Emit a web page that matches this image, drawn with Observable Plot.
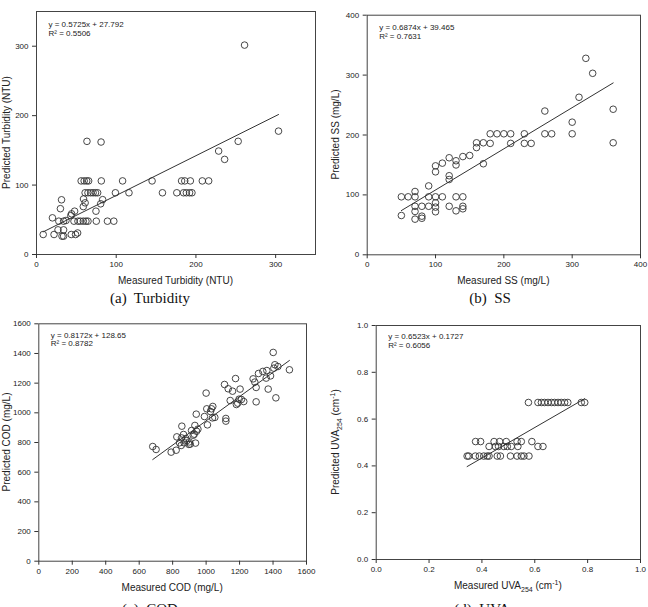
<!DOCTYPE html>
<html>
<head>
<meta charset="utf-8">
<script src="https://cdn.jsdelivr.net/npm/d3@7"></script>
<script src="https://cdn.jsdelivr.net/npm/@observablehq/plot@0.6"></script>
<style>
  body { margin: 0; background: #fff; }
  #fig { position: relative; width: 648px; height: 607px; overflow: hidden; background: #fff; }
  .panel { position: absolute; width: 324px; height: 300px; }
  .panel svg { overflow: visible; }
  #captions { position: absolute; left: 0; top: 0; pointer-events: none; overflow: visible; }
</style>
</head>
<body>
<div id="fig"></div>
<script>
// ---- (a) Turbidity, NTU ----
const turbidityMeasured = [8.4, 20, 22, 27, 28, 30, 31.4, 32, 34, 34, 34, 37, 43, 44, 47.8, 47, 43.6, 49, 51.6,
  52, 55, 58.7, 62, 64.6, 58.7, 59, 61, 56, 59.8, 63, 65.4, 63.3, 61, 64.6, 68, 71, 74, 76.7, 74.6, 75,
  81, 81.3, 80.5, 83, 89, 97, 99, 108, 116, 145, 158, 176, 182, 186, 184.5, 188, 192, 195, 193, 208, 216,
  228.5, 236, 253, 261, 303.6];
const turbidityPredicted = [28.8, 52.8, 28.8, 35.5, 48, 66, 78.8, 26.4, 26.4, 35.5, 48, 49, 56, 58.6, 62.4, 48, 28.8, 28.8, 31,
  48, 48, 48, 48, 48, 69, 80, 74.4, 106, 106, 106, 106, 163, 88.9, 88.9, 88.9, 88.9, 88.9, 88.9, 62.4, 48,
  162, 106, 73, 79, 48, 48, 88.9, 106, 88.9, 106, 88.9, 88.9, 106, 106, 88.9, 88.9, 88.9, 88.9, 106, 106, 106,
  149, 137, 163, 301.6, 177.7];
const turbidityTicks = [0, 100, 200, 300];

// ---- (b) SS, mg/L ----
const ssMeasured = [50, 50, 60, 70, 70, 70, 70, 70, 80, 80, 80, 90, 90, 90, 100, 100, 100, 100, 100, 100,
  110, 110, 120, 120, 120, 120, 130, 130, 130, 130, 140, 140, 140, 140, 150, 160, 160, 170, 170, 180, 180,
  190, 200, 210, 210, 230, 230, 240, 260, 260, 270, 300, 300, 310, 320, 330, 360, 360];
const ssPredicted = [65.6, 96.8, 96.8, 105.7, 96.8, 81, 72.3, 59.5, 81, 64.5, 61, 115, 96.8, 81, 96.8, 86.8, 79.6, 71.8, 148.5, 138.5,
  96.8, 153, 162, 132, 125.7, 81, 157, 150, 96.8, 73.4, 164, 96.8, 81, 76.8, 165.8, 187, 179, 187, 152, 202, 186,
  202, 202, 202, 186, 202, 186, 186, 240, 202, 202, 221.4, 202, 263, 328, 303, 243, 187];
const ssTicks = [0, 100, 200, 300, 400];

// ---- (c) COD, mg/L ----
const codMeasured = [681, 701, 791, 821, 825, 841, 853, 855, 851, 865, 869, 879, 885, 899, 905, 897, 913, 923, 933, 929,
  937, 943, 951, 941, 990, 1000, 1008, 1004, 1026, 1032, 1040, 1038, 1052, 1118, 1118, 1110, 1132, 1158, 1144, 1176,
  1181, 1189, 1197, 1203, 1211, 1225, 1281, 1291, 1299, 1299, 1313, 1339, 1363, 1359, 1371, 1385, 1401, 1405, 1411,
  1417, 1429, 1498];
const codPredicted = [773, 753, 735, 748, 838, 798, 831, 910, 780, 854, 798, 827, 813, 804, 789, 787, 881, 849, 915, 856,
  796, 876, 890, 991, 975, 1133, 919, 1027, 1009, 1027, 1043, 966, 969, 962, 944, 1191, 1162, 1146, 1083, 1231,
  1056, 1065, 1092, 1160, 1090, 1076, 1229, 1207, 1171, 1074, 1265, 1279, 1285, 1234, 1160, 1249, 1407, 1301, 1324,
  1101, 1312, 1290];
const codTicks = [0, 200, 400, 600, 800, 1000, 1200, 1400, 1600];

// ---- (d) UVA254, cm-1 ----
const uvaMeasured = [0.576, 0.612, 0.625, 0.637, 0.650, 0.663, 0.675, 0.688, 0.700, 0.713, 0.725, 0.776, 0.789,
  0.376, 0.395, 0.446, 0.467, 0.492, 0.533, 0.549, 0.589,
  0.427, 0.451, 0.463, 0.483, 0.496, 0.511, 0.536, 0.612, 0.631,
  0.344, 0.350, 0.375, 0.390, 0.407, 0.420, 0.427, 0.458, 0.470, 0.508, 0.533, 0.549, 0.559, 0.578];
const uvaPredicted = [0.671, 0.671, 0.671, 0.671, 0.671, 0.671, 0.671, 0.671, 0.671, 0.671, 0.671, 0.671, 0.671,
  0.504, 0.504, 0.504, 0.504, 0.504, 0.504, 0.504, 0.504,
  0.483, 0.483, 0.483, 0.483, 0.483, 0.483, 0.483, 0.483, 0.483,
  0.442, 0.442, 0.442, 0.442, 0.442, 0.442, 0.442, 0.442, 0.442, 0.442, 0.442, 0.442, 0.442, 0.442];
const uvaTicks = [0, 0.2, 0.4, 0.6, 0.8, 1.0];

// Fitted lines: slope, intercept and R² for panels a–d
const fitSlope = [0.5725, 0.6874, 0.8172, 0.6523];
const fitIntercept = [27.792, 39.465, 128.65, 0.1727];
const fitR2 = [0.5506, 0.7631, 0.8782, 0.6056];

// Axis titles and captions; each entry is a list of [text, "sub" | "sup" | null]
const xTitles = [
  [["Measured Turbidity (NTU)"]],
  [["Measured SS (mg/L)"]],
  [["Measured COD (mg/L)"]],
  [["Measured UVA"], ["254", "sub"], [" (cm"], ["-1", "sup"], [")"]]
];
const yTitles = [
  [["Predicted Turbidity (NTU)"]],
  [["Predicted SS (mg/L)"]],
  [["Predicted COD (mg/L)"]],
  [["Predicted UVA"], ["254", "sub"], [" (cm"], ["-1", "sup"], [")"]]
];
const captions = [
  [["(a)  Turbidity"]],
  [["(b)  SS"]],
  [["(c)  COD"]],
  [["(d)  UVA"], ["254", "sub"]]
];

const SANS = "'Liberation Sans', Arial, Helvetica, sans-serif";
const SERIF = "'Liberation Serif', 'Times New Roman', serif";
const INK = "#222";

// Writes a run of text pieces with sub/superscripts into an SVG <text>
function addRich(text, parts, fs) {
  let shift = 0;
  for (const [t, kind] of parts) {
    const target = kind === "sub" ? 0.3 * fs : kind === "sup" ? -0.4 * fs : 0;
    const ts = text.append("tspan").text(t).attr("dy", target - shift);
    if (kind) ts.attr("font-size", 0.7 * fs);
    shift = target;
  }
}

const layout = [
  {left: 0,   top: 0,   m: {l: 36,   r: 9,  t: 11,   b: 46},   yOff: 26,   eqDy: 10,
   x: turbidityMeasured, y: turbidityPredicted, domain: [0, 350], ticks: turbidityTicks, fmt: d3.format("d")},
  {left: 324, top: 0,   m: {l: 42.7, r: 8,  t: 14.7, b: 45.7}, yOff: 27.4, eqDy: 9,
   x: ssMeasured, y: ssPredicted, domain: [0, 400], ticks: ssTicks, fmt: d3.format("d")},
  {left: 0,   top: 300, m: {l: 38.3, r: 18, t: 23.3, b: 39.3}, yOff: 28,   eqDy: 8,
   x: codMeasured, y: codPredicted, domain: [0, 1600], ticks: codTicks, fmt: d3.format("d")},
  {left: 324, top: 300, m: {l: 51.7, r: 8,  t: 25,   b: 41},   yOff: 37,   eqDy: 8,
   x: uvaMeasured, y: uvaPredicted, domain: [0, 1], ticks: uvaTicks, fmt: d3.format(".1f")}
];

const fig = d3.select("#fig");
const W = 324, H = 300;

layout.forEach((p, i) => {
  const points = p.x.map((v, k) => ({measured: v, predicted: p.y[k]}));
  const [x0, x1] = d3.extent(p.x);
  const fit = [x0, x1].map(v => ({measured: v, predicted: fitSlope[i] * v + fitIntercept[i]}));
  const equation = `y = ${fitSlope[i]}x + ${fitIntercept[i]}\nR² = ${fitR2[i]}`;

  const chart = Plot.plot({
    width: W,
    height: H,
    marginLeft: p.m.l,
    marginRight: p.m.r,
    marginTop: p.m.t,
    marginBottom: p.m.b,
    style: {fontFamily: SANS, fontSize: "8px", color: INK, background: "transparent", overflow: "visible"},
    x: {domain: p.domain},
    y: {domain: p.domain},
    marks: [
      Plot.frame({stroke: "#444", strokeWidth: 1}),
      Plot.line(fit, {x: "measured", y: "predicted", stroke: "#333", strokeWidth: 1}),
      Plot.dot(points, {x: "measured", y: "predicted", r: 3.3, fill: "none", stroke: "#333", strokeWidth: 0.9}),
      Plot.text([equation], {
        text: d => d, frameAnchor: "top-left", textAnchor: "start", lineAnchor: "top",
        dx: 12, dy: p.eqDy - 0.5, fontSize: 8, lineHeight: 1.1, fill: INK
      }),
      Plot.axisX({ticks: p.ticks, tickFormat: p.fmt, tickSize: 4, tickPadding: 3, label: null, stroke: "#333", fill: INK}),
      Plot.axisY({ticks: p.ticks, tickFormat: p.fmt, tickSize: 4, tickPadding: 4, label: null, stroke: "#333", fill: INK})
    ]
  });

  const holder = fig.append("div").attr("class", "panel")
    .style("left", p.left + "px").style("top", p.top + "px");
  holder.node().appendChild(chart);

  // axis titles centred on the plotting frame
  const svg = d3.select(chart);
  const cx = (p.m.l + (W - p.m.r)) / 2;
  const cy = (p.m.t + (H - p.m.b)) / 2;
  const fs = 10;
  const xt = svg.append("text")
    .attr("x", cx).attr("y", H - p.m.b + 30)
    .attr("text-anchor", "middle").attr("font-family", SANS).attr("font-size", fs)
    .attr("fill", INK).style("white-space", "pre");
  addRich(xt, xTitles[i], fs);
  const yt = svg.append("text")
    .attr("transform", `translate(${p.m.l - p.yOff},${cy}) rotate(-90)`)
    .attr("text-anchor", "middle").attr("font-family", SANS).attr("font-size", fs)
    .attr("fill", INK).style("white-space", "pre");
  addRich(yt, yTitles[i], fs);
});

// sub-figure captions (the lower pair runs past the bottom edge of the page)
const capPos = [[150, 303], [490, 303], [150, 614], [490, 614]];
const cap = fig.append("svg").attr("id", "captions").attr("width", 648).attr("height", 607);
captions.forEach((parts, i) => {
  const t = cap.append("text")
    .attr("x", capPos[i][0]).attr("y", capPos[i][1])
    .attr("text-anchor", "middle").attr("font-family", SERIF).attr("font-size", 15)
    .attr("fill", "#111").style("white-space", "pre");
  addRich(t, parts, 15);
});
</script>
</body>
</html>
